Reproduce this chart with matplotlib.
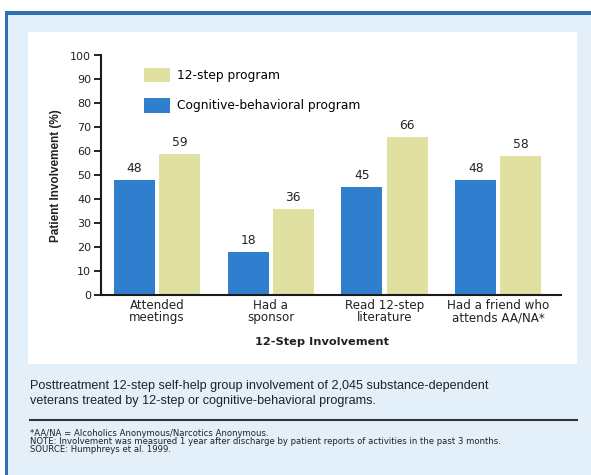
import matplotlib

matplotlib.use("Agg")
import matplotlib.pyplot as plt
import numpy as np
from matplotlib import font_manager
from matplotlib.patches import Rectangle

plt.rcParams["font.family"] = ["DejaVu Sans"]

installed = {f.name for f in font_manager.fontManager.ttflist}
NARROW = "Liberation Sans Narrow" if "Liberation Sans Narrow" in installed else "Liberation Sans"

categories = [
    "Attended\nmeetings",
    "Had a\nsponsor",
    "Read 12-step\nliterature",
    "Had a friend who\nattends AA/NA*",
]
cognitive_behavioral = [48, 18, 45, 48]
twelve_step = [59, 36, 66, 58]
y_ticks = list(range(0, 101, 10))

caption = (
    "Posttreatment 12-step self-help group involvement of 2,045 substance-dependent\n"
    "veterans treated by 12-step or cognitive-behavioral programs."
)
footnotes = [
    "*AA/NA = Alcoholics Anonymous/Narcotics Anonymous.",
    "NOTE: Involvement was measured 1 year after discharge by patient reports of activities in the past 3 months.",
    "SOURCE: Humphreys et al. 1999.",
]

BLUE = "#2f7fce"
KHAKI = "#e0e0a2"
PANEL_BG = "#e3f0fa"
FRAME_BLUE = "#2f6fb3"
TEXT = "#222222"

W, H = 591, 475
fig = plt.figure(figsize=(W / 100, H / 100), dpi=100)


def px(x, y):
    """Pixel coordinates (top-left origin) to figure fraction."""
    return x / W, 1 - y / H


def add_rect(x0, y0, x1, y1, color, z):
    fx0, fy1 = px(x0, y1)
    fig.patches.append(
        Rectangle((fx0, fy1), (x1 - x0) / W, (y1 - y0) / H, transform=fig.transFigure,
                  facecolor=color, edgecolor="none", zorder=z)
    )


# light blue card, blue frame on top and left, white chart panel
add_rect(6, 12, W, H, PANEL_BG, 0)
add_rect(6, 11, W, 15, FRAME_BLUE, 1)
add_rect(5, 11, 8, H, FRAME_BLUE, 1)
add_rect(28, 32, 577, 364, "white", 1)

left, top = px(101, 55.5)
right, bottom = px(561, 295)
ax = fig.add_axes([left, bottom, right - left, top - bottom])
ax.set_facecolor("none")
ax.set_zorder(2)

x = np.arange(len(categories))
width = 0.36
offset = 0.198
bars_cb = ax.bar(x - offset, cognitive_behavioral, width, color=BLUE,
                 label="Cognitive-behavioral program")
bars_ts = ax.bar(x + offset, twelve_step, width, color=KHAKI, label="12-step program")

for bars, vals in ((bars_cb, cognitive_behavioral), (bars_ts, twelve_step)):
    for b, v in zip(bars, vals):
        ax.text(b.get_x() + b.get_width() / 2, v + 2.0, f"{v}", ha="center",
                va="bottom", fontsize=8.8, color=TEXT)

ax.set_xlim(-0.49, 3.55)
ax.set_ylim(0, 100)
ax.set_yticks(y_ticks)
ax.set_xticks(x)
ax.set_xticklabels(categories, fontsize=8.6, color=TEXT, linespacing=0.9)
ax.tick_params(axis="x", length=0, pad=3)
ax.tick_params(axis="y", length=5, width=1.2, labelsize=8.0, labelcolor=TEXT, pad=2)
for side in ("top", "right"):
    ax.spines[side].set_visible(False)
for side in ("left", "bottom"):
    ax.spines[side].set_linewidth(1.5)
    ax.spines[side].set_color("#1a1a1a")

ax.set_ylabel("Patient Involvement (%)", fontsize=8.5, fontweight="bold",
              family=NARROW, color=TEXT, labelpad=6)
ax.set_xlabel("12-Step Involvement", fontsize=8.2, fontweight="bold", color=TEXT)
ax.xaxis.set_label_coords(0.48, -0.175)

handles = [bars_ts, bars_cb]
ax.legend(handles, [h.get_label() for h in handles], loc="upper left",
          bbox_to_anchor=(0.07, 0.995), frameon=False, fontsize=8.8,
          handlelength=2.1, handleheight=1.45, labelspacing=1.3, handletextpad=0.6)

fig.text(30 / W, 1 - 380 / H, caption, ha="left", va="top", fontsize=9.1,
         family="Liberation Sans", color=TEXT, linespacing=1.35)
fig.add_artist(plt.Line2D([30 / W, 577 / W], [1 - 420 / H, 1 - 420 / H],
                          transform=fig.transFigure, color="#333333", linewidth=1.5))
for i, line in enumerate(footnotes):
    fig.text(30 / W, 1 - (434 + 7.8 * i) / H, line, ha="left", va="center",
             fontsize=6.1, color=TEXT)

fig.savefig("out.png", dpi=100)
